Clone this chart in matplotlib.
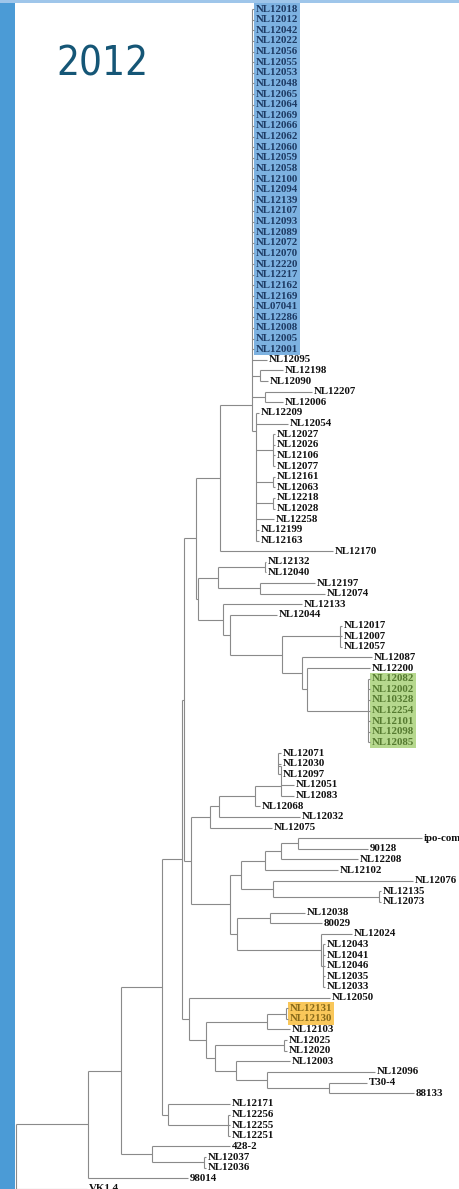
import matplotlib
matplotlib.use("Agg")
import matplotlib.pyplot as plt
from matplotlib.patches import Rectangle

YEAR = "2012"

# leaves, top to bottom, and the depth (tree distance) at which each branch ends
BLUE = ["NL12018", "NL12012", "NL12042", "NL12022", "NL12056", "NL12055", "NL12053",
        "NL12048", "NL12065", "NL12064", "NL12069", "NL12066", "NL12062", "NL12060",
        "NL12059", "NL12058", "NL12100", "NL12094", "NL12139", "NL12107", "NL12093",
        "NL12089", "NL12072", "NL12070", "NL12220", "NL12217", "NL12162", "NL12169",
        "NL07041", "NL12286", "NL12008", "NL12005", "NL12001"]
GREEN = ["NL12082", "NL12002", "NL10328", "NL12254", "NL12101", "NL12098", "NL12085"]
ORANGE = ["NL12131", "NL12130"]

LEAVES = BLUE + [
    "NL12095", "NL12198", "NL12090", "NL12207", "NL12006", "NL12209", "NL12054",
    "NL12027", "NL12026", "NL12106", "NL12077", "NL12161", "NL12063", "NL12218",
    "NL12028", "NL12258", "NL12199", "NL12163", "NL12170", "NL12132", "NL12040",
    "NL12197", "NL12074", "NL12133", "NL12044", "NL12017", "NL12007", "NL12057",
    "NL12087", "NL12200"] + GREEN + [
    "NL12071", "NL12030", "NL12097", "NL12051", "NL12083", "NL12068", "NL12032",
    "NL12075", "ipo-comp", "90128", "NL12208", "NL12102", "NL12076", "NL12135",
    "NL12073", "NL12038", "80029", "NL12024", "NL12043", "NL12041", "NL12046",
    "NL12035", "NL12033", "NL12050", "NL12131", "NL12130", "NL12103", "NL12025",
    "NL12020", "NL12003", "NL12096", "T30-4", "88133", "NL12171", "NL12256",
    "NL12255", "NL12251", "428-2", "NL12037", "NL12036", "98014", "VK1.4"]

TIP_DEPTH = [254] * len(BLUE) + [
    267, 283, 268, 312, 283, 259, 288,
    275, 275, 275, 275, 275, 275, 275,
    275, 274, 259, 259, 333, 266, 266,
    315, 325, 302, 277, 342, 342, 342,
    372, 370] + [370] * len(GREEN) + [
    281, 281, 281, 294, 294, 260, 300,
    272, 422, 368, 358, 338, 413, 381,
    381, 305, 322, 352, 325, 325, 325,
    325, 325, 330, 288, 288, 290, 287,
    287, 290, 375, 367, 414, 230, 230,
    230, 230, 230, 206, 206, 188, 87]

# internal nodes: depth and children (top to bottom)
CLADE_DEPTH = {
    "root": 16, "n88": 88, "n121": 121, "n153": 152.3, "n37": 204, "top2": 162,
    "bot1": 168.3, "bot1a": 228.3, "Y": 181.7, "Z": 183.7, "D": 196, "A": 220,
    "B": 251.7, "C": 256, "c198": 260, "c207": 265, "c027": 272.7, "c161": 272.7,
    "c218": 272.7, "E": 198, "F": 218, "c132": 265, "c197": 260, "I": 222.7,
    "J": 230, "K": 282, "c017": 340, "M": 301.7, "N": 307, "green": 368,
    "U": 190.7, "T": 210, "S": 219.3, "R": 255, "P2": 280.7, "P1": 278,
    "V": 230, "W": 241, "W1": 265, "W1a": 281, "W1b": 298, "W2": 273, "W2a": 379,
    "X": 237, "X1": 270, "X2": 320.7, "X2a": 322.7, "Y2": 189.3, "Y3": 206,
    "Y4": 266.7, "Y4a": 285.7, "Y5": 215, "Y5a": 284, "Y6": 236, "Y7": 266.7,
    "Y8": 329.3,
}
CLADE_KIDS = {
    "root": ["n88", "VK1.4"], "n88": ["n121", "98014"], "n121": ["top2", "n153"],
    "n153": ["428-2", "n37"], "n37": ["NL12037", "NL12036"], "top2": ["Y", "bot1"],
    "bot1": ["NL12171", "bot1a"], "bot1a": ["NL12256", "NL12255", "NL12251"],
    "Y": ["Z", "Y2"], "Z": ["D", "U"], "D": ["A", "E"], "A": ["B", "NL12170"],
    "B": BLUE + ["NL12095", "c198", "c207", "C"],
    "C": ["NL12209", "NL12054", "c027", "c161", "c218", "NL12258", "NL12199", "NL12163"],
    "c198": ["NL12198", "NL12090"], "c207": ["NL12207", "NL12006"],
    "c027": ["NL12027", "NL12026", "NL12106", "NL12077"],
    "c161": ["NL12161", "NL12063"], "c218": ["NL12218", "NL12028"],
    "E": ["F", "I"], "F": ["c132", "c197"], "c132": ["NL12132", "NL12040"],
    "c197": ["NL12197", "NL12074"], "I": ["NL12133", "J"], "J": ["NL12044", "K"],
    "K": ["c017", "M"], "c017": ["NL12017", "NL12007", "NL12057"],
    "M": ["NL12087", "N"], "N": ["NL12200", "green"], "green": GREEN,
    "U": ["T", "V"], "T": ["S", "NL12075"], "S": ["R", "NL12032"], "R": ["P2", "NL12068"],
    "P2": ["P1", "NL12051", "NL12083"], "P1": ["NL12071", "NL12030", "NL12097"],
    "V": ["W", "X"], "W": ["W1", "W2"], "W1": ["W1a", "NL12102"],
    "W1a": ["W1b", "NL12208"], "W1b": ["ipo-comp", "90128"], "W2": ["NL12076", "W2a"],
    "W2a": ["NL12135", "NL12073"], "X": ["X1", "X2"], "X1": ["NL12038", "80029"],
    "X2": ["NL12024", "X2a"], "X2a": ["NL12043", "NL12041", "NL12046", "NL12035", "NL12033"],
    "Y2": ["NL12050", "Y3"], "Y3": ["Y4", "Y5"], "Y4": ["Y4a", "NL12103"],
    "Y4a": ["NL12131", "NL12130"], "Y5": ["Y5a", "Y6"], "Y5a": ["NL12025", "NL12020"],
    "Y6": ["NL12003", "Y7"], "Y7": ["NL12096", "Y8"], "Y8": ["T30-4", "88133"],
}
# multifurcations stored as zero-length ladders: "down" = nested from the top, "up" = from the bottom
LADDER = {"B": "down", "P1": "down", "P2": "down", "C": "up"}

HIGHLIGHTS = [(BLUE, "#7db2e1", "#1d3a63"),
              (GREEN, "#b6d88e", "#557a30"),
              (ORANGE, "#f9c75a", "#86691a")]

ROW = {name: i for i, name in enumerate(LEAVES)}
DEPTH = dict(zip(LEAVES, TIP_DEPTH))
DEPTH.update(CLADE_DEPTH)

W_PX, H_PX = 459, 1189
ROW0_PX, ROW_STEP = 9.0, 10.63
BRANCH = "#8a8a8a"

_ycache = {}


def node_y(name):
    if name in ROW:
        return ROW[name]
    if name not in _ycache:
        ys = [node_y(k) for k in CLADE_KIDS[name]]
        mode = LADDER.get(name)
        if mode == "down":
            y = ys[0]
            for v in ys[1:]:
                y = (y + v) / 2
        elif mode == "up":
            y = ys[-1]
            for v in reversed(ys[:-1]):
                y = (y + v) / 2
        else:
            y = (min(ys) + max(ys)) / 2
        _ycache[name] = y
    return _ycache[name]


def draw_clade(ax, name):
    x0 = DEPTH[name]
    ys = []
    for kid in CLADE_KIDS[name]:
        ky = node_y(kid)
        ys.append(ky)
        ax.plot([x0, DEPTH[kid]], [ky, ky], color=BRANCH, lw=0.8, solid_capstyle="butt")
        if kid in CLADE_KIDS:
            draw_clade(ax, kid)
    ax.plot([x0, x0], [min(ys), max(ys)], color=BRANCH, lw=0.8, solid_capstyle="butt")


fig = plt.figure(figsize=(W_PX / 100, H_PX / 100), dpi=100)
ax = fig.add_axes([0, 0, 1, 1])
ax.set_xlim(0, W_PX)
ax.set_ylim((H_PX - ROW0_PX) / ROW_STEP, -ROW0_PX / ROW_STEP)
ax.axis("off")

draw_clade(ax, "root")

label_color = {}
for leaves, _, tc in HIGHLIGHTS:
    for name in leaves:
        label_color[name] = tc

texts = {}
for name in LEAVES:
    texts[name] = ax.text(DEPTH[name] + 1.5, ROW[name], name, ha="left", va="center",
                          family="Liberation Serif", weight="bold", fontsize=7.8,
                          color=label_color.get(name, "#111111"), zorder=4)

# shaded boxes behind the highlighted groups
fig.canvas.draw()
renderer = fig.canvas.get_renderer()
inv = ax.transData.inverted()
for leaves, fill, _ in HIGHLIGHTS:
    x_left = min(inv.transform(texts[n].get_window_extent(renderer).p0)[0] for n in leaves)
    x_right = max(inv.transform(texts[n].get_window_extent(renderer).p1)[0] for n in leaves)
    top = ROW[leaves[0]] - 0.56
    bottom = ROW[leaves[-1]] + 0.56
    ax.add_patch(Rectangle((x_left - 2, top), x_right - x_left + 4, bottom - top,
                           facecolor=fill, edgecolor="none", zorder=1.5))

# slide frame: blue strip on the left, thin rule on top
fig.patches.append(Rectangle((0, 0), 15 / W_PX, 1, transform=fig.transFigure,
                             facecolor="#4b9bd6", edgecolor="none", zorder=5))
fig.patches.append(Rectangle((0, 1 - 3 / H_PX), 1, 3 / H_PX, transform=fig.transFigure,
                             facecolor="#9fc6ea", edgecolor="none", zorder=5))

fig.text(56 / W_PX, 1 - 76 / H_PX, YEAR, ha="left", va="baseline",
         family="DejaVu Sans", fontstretch="condensed", fontsize=29, color="#155676")

fig.savefig("out.png", dpi=100)
